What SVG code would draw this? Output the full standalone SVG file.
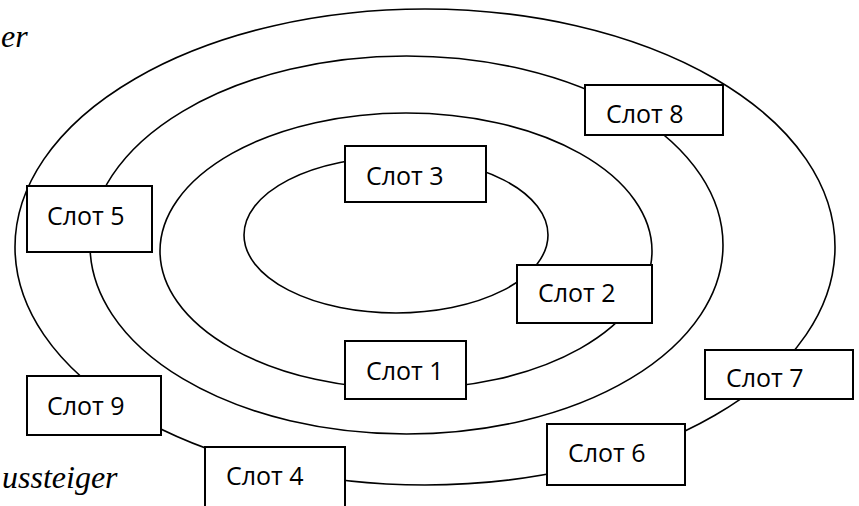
<svg xmlns="http://www.w3.org/2000/svg" width="859" height="506" viewBox="0 0 859 506">
<style>
.ring{fill:none;stroke:#000;stroke-width:1.6}
.box{fill:#fff;stroke:#000;stroke-width:2}
.lbl{font-family:"Open Sans","Noto Sans",sans-serif;font-size:25px;fill:#000}
.it{font-family:"Liberation Serif","Times New Roman",serif;font-style:italic;font-size:32px;fill:#000}
</style>
<rect width="859" height="506" fill="#fff"/>
<g id="connectors">
<ellipse class="ring" cx="425" cy="247" rx="410" ry="238"/>
<ellipse class="ring" cx="406.5" cy="245" rx="316.5" ry="189"/>
<ellipse class="ring" cx="406" cy="251" rx="246" ry="138"/>
<ellipse class="ring" cx="396" cy="235" rx="152" ry="78"/>
</g>
<text class="it" x="1" y="47">er</text>
<text class="it" x="2" y="488">ussteiger</text>
<g id="slot3"><rect class="box" x="345" y="146" width="141" height="56"/><text class="lbl" x="366" y="185">Слот 3</text></g>
<g id="slot5"><rect class="box" x="27" y="186" width="125" height="66"/><text class="lbl" x="47" y="225">Слот 5</text></g>
<g id="slot8"><rect class="box" x="585" y="85" width="138" height="50"/><text class="lbl" x="606" y="123">Слот 8</text></g>
<g id="slot2"><rect class="box" x="517" y="265" width="135" height="58"/><text class="lbl" x="538" y="302">Слот 2</text></g>
<g id="slot1"><rect class="box" x="345" y="341" width="121" height="58"/><text class="lbl" x="366" y="380">Слот 1</text></g>
<g id="slot7"><rect class="box" x="705" y="350" width="148" height="49"/><text class="lbl" x="726" y="387">Слот 7</text></g>
<g id="slot9"><rect class="box" x="27" y="376" width="134" height="59"/><text class="lbl" x="47" y="415">Слот 9</text></g>
<g id="slot6"><rect class="box" x="547" y="424" width="138" height="61"/><text class="lbl" x="568" y="462">Слот 6</text></g>
<g id="slot4"><rect class="box" x="205" y="447" width="140" height="80"/><text class="lbl" x="226" y="485">Слот 4</text></g>
</svg>
